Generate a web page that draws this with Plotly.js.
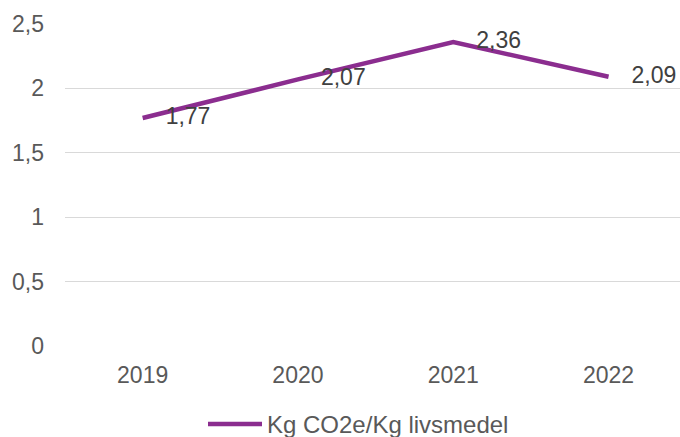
<!DOCTYPE html>
<html>
<head>
<meta charset="utf-8">
<script src="https://cdn.plot.ly/plotly-3.0.1.min.js"></script>
<style>html,body{margin:0;padding:0;background:#fff;}#chart{width:680px;height:437px;}</style>
</head>
<body>
<div id="chart"></div>
<script>
const years = ['2019', '2020', '2021', '2022'];
const values = [1.77, 2.07, 2.36, 2.09];
const valueLabels = ['1,77', '2,07', '2,36', '2,09'];
const yTickVals = [0, 0.5, 1, 1.5, 2, 2.5];
const yTickText = ['0', '0,5', '1', '1,5', '2', '2,5'];
const seriesName = 'Kg CO2e/Kg livsmedel';

const font = 'Liberation Sans, Arial, sans-serif';
const tickColor = '#595959';
const labelColor = '#404040';
const lineColor = '#8B2D8F';
const fs = 23;

const trace = {
  x: [0, 1, 2, 3],
  y: values,
  name: seriesName,
  type: 'scatter',
  mode: 'lines+text',
  line: {color: lineColor, width: 4.5},
  text: valueLabels.map(t => '\u2003' + t),
  textposition: 'middle right',
  textfont: {family: font, size: fs, color: labelColor},
  cliponaxis: false,
  hoverinfo: 'skip',
  showlegend: false
};

const layout = {
  width: 680,
  height: 437,
  margin: {l: 65, r: 0, t: 24, b: 91},
  paper_bgcolor: '#fff',
  plot_bgcolor: '#fff',
  font: {family: font, size: fs, color: tickColor},
  showlegend: false,
  shapes: [{
    type: 'line', xref: 'paper', yref: 'paper',
    x0: (208 - 65) / 615, x1: (262 - 65) / 615,
    y0: -(424 - 346) / 322, y1: -(424 - 346) / 322,
    line: {color: lineColor, width: 4.5}
  }],
  annotations: [{
    xref: 'paper', yref: 'paper',
    x: (265 - 65) / 615, y: -(424 - 346) / 322,
    xanchor: 'left', yanchor: 'middle',
    text: seriesName, showarrow: false,
    font: {family: font, size: 24, color: tickColor}
  }],
  xaxis: {
    range: [-0.5, 3.46],
    tickvals: [0, 1, 2, 3],
    ticktext: years,
    showgrid: false,
    zeroline: false,
    showline: false,
    ticks: '',
    ticklabelstandoff: 13,
    tickfont: {family: font, size: fs, color: tickColor},
    fixedrange: true
  },
  yaxis: {
    range: [0, 2.5],
    tickvals: yTickVals,
    ticktext: yTickText,
    showgrid: true,
    gridcolor: '#d9d9d9',
    gridwidth: 1.3,
    zeroline: false,
    showline: false,
    ticks: '',
    ticklabelstandoff: 20,
    tickfont: {family: font, size: fs, color: tickColor},
    fixedrange: true
  }
};

Plotly.newPlot('chart', [trace], layout, {displayModeBar: false, staticPlot: true});
</script>
</body>
</html>
